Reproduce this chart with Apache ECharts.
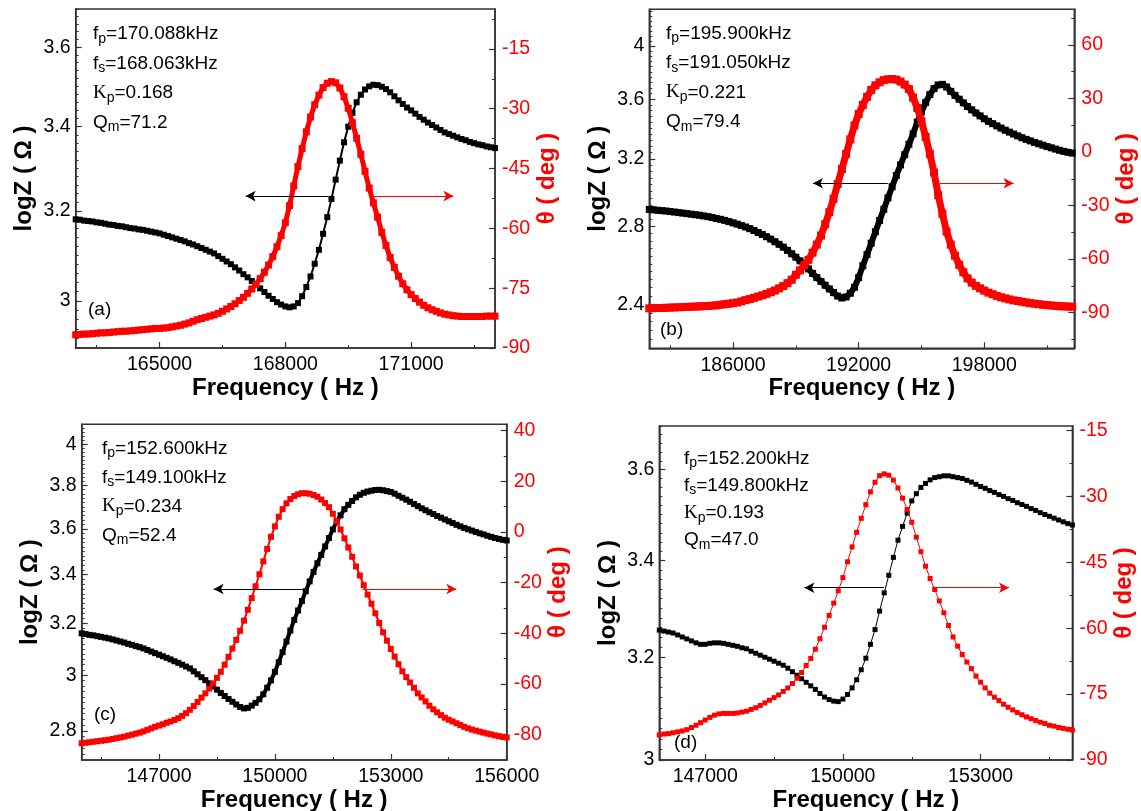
<!DOCTYPE html>
<html>
<head>
<meta charset="utf-8">
<title>logZ and phase vs frequency</title>
<script src="https://cdn.jsdelivr.net/npm/echarts@6.0.0/dist/echarts.min.js"></script>
<style>
  html, body { margin: 0; padding: 0; background: #fff; }
  #chart { width: 1141px; height: 811px; }
</style>
</head>
<body>
<div id="chart"></div>
<script>
// sweep start / step (Hz) of each panel
const sweepA = [163000, 100];
const sweepB = [182000, 200];
const sweepC = [145000, 100];
const sweepD = [146000, 100];

// (a) logZ and phase
const logZA = [
  3.181,3.180,3.178,3.177,3.176,3.174,3.173,3.171,3.169,3.168,
  3.166,3.165,3.163,3.161,3.160,3.158,3.157,3.155,3.153,3.151,
  3.149,3.146,3.143,3.140,3.137,3.134,3.131,3.127,3.124,3.120,
  3.116,3.112,3.108,3.104,3.098,3.092,3.086,3.080,3.073,3.066,
  3.058,3.051,3.043,3.035,3.027,3.019,3.011,3.004,2.997,2.992,
  2.988,2.986,2.988,2.995,3.010,3.030,3.053,3.081,3.112,3.148,
  3.186,3.228,3.273,3.318,3.362,3.400,3.434,3.460,3.479,3.492,
  3.500,3.504,3.503,3.499,3.493,3.485,3.475,3.465,3.456,3.447,
  3.440,3.432,3.424,3.417,3.410,3.404,3.398,3.392,3.386,3.382,
  3.378,3.374,3.370,3.367,3.363,3.360,3.357,3.355,3.352,3.350,
  3.348];
const phaseA = [
  -86.7,-86.6,-86.5,-86.5,-86.4,-86.3,-86.2,-86.2,-86.1,-86.0,
  -85.9,-85.8,-85.8,-85.7,-85.6,-85.5,-85.4,-85.3,-85.2,-85.1,
  -85.1,-85.0,-84.9,-84.7,-84.5,-84.3,-84.0,-83.7,-83.3,-82.9,
  -82.6,-82.3,-82.0,-81.7,-81.3,-80.8,-80.2,-79.6,-78.9,-78.1,
  -77.3,-76.3,-75.2,-74.0,-72.6,-71.0,-69.2,-67.1,-64.6,-61.8,
  -58.6,-54.3,-49.4,-44.5,-40.0,-35.8,-32.1,-29.0,-26.6,-24.7,
  -23.6,-23.2,-23.5,-24.8,-27.0,-29.9,-33.5,-37.4,-41.4,-45.7,
  -49.9,-53.6,-57.2,-61.0,-64.3,-67.3,-69.8,-72.0,-73.9,-75.4,
  -76.6,-77.6,-78.5,-79.3,-79.9,-80.4,-80.8,-81.2,-81.5,-81.7,
  -81.9,-82.0,-82.1,-82.1,-82.1,-82.1,-82.1,-82.1,-82.0,-82.0,
  -82.0];

// (b)
const logZB = [
  2.895,2.893,2.890,2.888,2.886,2.883,2.880,2.877,2.874,2.871,
  2.868,2.865,2.862,2.858,2.854,2.849,2.844,2.839,2.833,2.826,
  2.819,2.812,2.804,2.796,2.787,2.777,2.766,2.755,2.743,2.730,
  2.716,2.702,2.687,2.670,2.652,2.634,2.615,2.595,2.574,2.551,
  2.530,2.511,2.492,2.474,2.456,2.439,2.430,2.435,2.453,2.482,
  2.530,2.590,2.648,2.708,2.770,2.833,2.896,2.962,3.028,3.096,
  3.161,3.226,3.293,3.362,3.440,3.510,3.577,3.633,3.676,3.703,
  3.707,3.688,3.656,3.627,3.600,3.574,3.548,3.525,3.503,3.483,
  3.463,3.446,3.430,3.415,3.400,3.386,3.373,3.360,3.348,3.336,
  3.325,3.315,3.305,3.296,3.287,3.278,3.270,3.262,3.254,3.247,
  3.241,3.236];
const phaseB = [
  -87.6,-87.5,-87.4,-87.4,-87.3,-87.2,-87.1,-87.0,-86.9,-86.8,
  -86.7,-86.6,-86.5,-86.4,-86.3,-86.1,-85.9,-85.6,-85.3,-85.0,
  -84.7,-84.3,-83.7,-83.0,-82.4,-81.7,-81.0,-80.3,-79.5,-78.6,
  -77.6,-76.4,-75.1,-73.5,-71.6,-68.8,-66.3,-63.4,-60.4,-56.4,
  -51.9,-46.8,-40.5,-33.7,-26.2,-17.9,-9.5,-1.1,7.1,14.9,
  21.3,26.4,30.9,34.8,37.4,39.1,40.3,40.8,40.9,40.6,
  39.5,37.8,35.3,30.5,24.7,17.3,8.5,-1.0,-11.5,-24.2,
  -34.6,-44.6,-51.9,-58.1,-63.2,-67.4,-70.8,-73.2,-75.0,-76.4,
  -77.7,-78.8,-79.7,-80.6,-81.4,-82.0,-82.6,-83.1,-83.5,-83.9,
  -84.3,-84.7,-85.0,-85.3,-85.6,-85.8,-86.0,-86.2,-86.4,-86.5,
  -86.6,-86.7];

// (c)
const logZC = [
  3.161,3.158,3.155,3.153,3.150,3.147,3.144,3.141,3.137,3.133,
  3.129,3.125,3.120,3.116,3.111,3.107,3.102,3.096,3.090,3.084,
  3.078,3.072,3.066,3.060,3.053,3.047,3.040,3.033,3.026,3.015,
  3.004,2.993,2.982,2.970,2.959,2.947,2.935,2.924,2.913,2.903,
  2.893,2.884,2.879,2.881,2.889,2.899,2.912,2.930,2.954,2.981,
  3.013,3.050,3.088,3.129,3.172,3.214,3.252,3.291,3.331,3.372,
  3.412,3.449,3.485,3.522,3.559,3.597,3.632,3.661,3.689,3.709,
  3.727,3.744,3.756,3.765,3.771,3.775,3.778,3.779,3.777,3.773,
  3.769,3.761,3.751,3.742,3.733,3.723,3.713,3.703,3.693,3.684,
  3.675,3.667,3.658,3.650,3.642,3.634,3.626,3.618,3.611,3.604,
  3.598,3.592,3.586,3.580,3.575,3.569,3.564,3.559,3.555,3.551,
  3.548];
const phaseC = [
  -83.4,-83.2,-83.0,-82.8,-82.6,-82.4,-82.2,-82.0,-81.7,-81.4,
  -81.1,-80.8,-80.4,-80.0,-79.6,-79.2,-78.7,-78.1,-77.5,-76.9,
  -76.4,-75.9,-75.3,-74.8,-74.2,-73.5,-72.6,-71.5,-70.2,-68.7,
  -67.1,-65.4,-63.7,-61.8,-59.8,-57.6,-55.2,-52.4,-49.3,-46.0,
  -42.6,-39.0,-35.0,-30.7,-26.1,-21.4,-16.7,-11.6,-6.7,-1.9,
  2.2,6.0,9.0,11.3,13.0,14.2,14.9,15.3,15.3,15.1,
  14.6,13.9,12.8,11.4,9.8,7.2,4.2,1.0,-2.5,-6.1,
  -9.8,-13.6,-17.2,-21.0,-24.7,-28.3,-32.1,-35.9,-39.6,-42.9,
  -46.2,-49.2,-52.2,-55.0,-57.3,-59.4,-61.5,-63.7,-65.3,-66.9,
  -68.6,-70.0,-71.2,-72.3,-73.3,-74.1,-74.8,-75.5,-76.2,-76.9,
  -77.5,-78.0,-78.4,-78.8,-79.2,-79.6,-79.9,-80.3,-80.6,-80.9,
  -81.1];

// (d)
const logZD = [
  3.255,3.253,3.251,3.249,3.245,3.241,3.237,3.233,3.229,3.226,
  3.226,3.228,3.229,3.229,3.228,3.226,3.224,3.222,3.219,3.217,
  3.212,3.208,3.204,3.200,3.196,3.192,3.188,3.184,3.178,3.171,
  3.164,3.157,3.150,3.143,3.136,3.128,3.121,3.116,3.113,3.112,
  3.117,3.126,3.139,3.155,3.175,3.198,3.226,3.256,3.294,3.332,
  3.369,3.407,3.444,3.474,3.503,3.530,3.546,3.560,3.569,3.577,
  3.582,3.584,3.586,3.586,3.584,3.582,3.580,3.576,3.572,3.567,
  3.562,3.558,3.553,3.549,3.544,3.540,3.535,3.531,3.526,3.522,
  3.518,3.513,3.509,3.504,3.500,3.496,3.492,3.488,3.484,3.480,
  3.477];
const phaseD = [
  -84.3,-84.1,-84.0,-83.8,-83.6,-83.4,-83.1,-82.6,-82.1,-81.5,
  -80.9,-80.3,-79.8,-79.5,-79.4,-79.4,-79.4,-79.3,-79.1,-78.9,
  -78.5,-78.1,-77.6,-77.0,-76.4,-75.8,-75.2,-74.4,-73.6,-72.6,
  -71.4,-70.1,-68.5,-66.9,-64.8,-62.4,-59.8,-57.1,-54.3,-51.5,
  -48.5,-44.9,-41.5,-38.2,-35.0,-31.9,-29.0,-26.8,-25.3,-24.9,
  -25.2,-26.3,-28.1,-30.4,-33.0,-35.9,-39.3,-42.6,-45.9,-48.7,
  -51.2,-53.8,-56.5,-59.4,-62.0,-64.1,-66.0,-67.7,-69.2,-70.9,
  -72.3,-73.6,-74.8,-75.7,-76.5,-77.3,-78.0,-78.6,-79.2,-79.7,
  -80.2,-80.6,-81.0,-81.4,-81.7,-82.1,-82.3,-82.6,-82.8,-83.0,
  -83.2];

// axis ranges and tick labels
const freqRange  = [[163000, 173000], [182000, 202300], [145000, 156000], [146000, 155000]];
const logZRange  = [[2.9, 3.7], [2.2, 4.3], [2.7, 4.1], [3.0, 3.7]];
const phaseRange = [[-90, -5], [-110, 80], [-90, 42.5], [-90, -14]];
const freqTicks  = [[165000, 168000, 171000], [186000, 192000, 198000], [147000, 150000, 153000, 156000], [147000, 150000, 153000]];
const logZTicks  = [[3.0, 3.2, 3.4, 3.6], [2.4, 2.8, 3.2, 3.6, 4.0], [2.8, 3.0, 3.2, 3.4, 3.6, 3.8, 4.0], [3.0, 3.2, 3.4, 3.6]];
const phaseTicks = [[-90, -75, -60, -45, -30, -15], [-90, -60, -30, 0, 30, 60], [-80, -60, -40, -20, 0, 20, 40], [-90, -75, -60, -45, -30, -15]];
const freqMinor  = [1500, 3000, 1500, 1500];
const logZMinor  = [0.02, 0.04, 0.02, 0.02];
const phaseMinor = [7.5, 15, 10, 7.5];

// annotation texts
const panelTags = ['(a)', '(b)', '(c)', '(d)'];
const fpText = ['170.088', '195.900', '152.600', '152.200'];
const fsText = ['168.063', '191.050', '149.100', '149.800'];
const kpText = ['0.168', '0.221', '0.234', '0.193'];
const qmText = ['71.2', '79.4', '52.4', '47.0'];
// arrows: [y(phase), black tail, black head, red tail, red head]
const arrows = [
  [-51.9, 169029, 167053, 170040, 172009],
  [-17.5, 193391, 189818, 195865, 199404],
  [-22.5, 150779, 148414, 152267, 154697],
  [-50.8, 150895, 149161, 151985, 153619]
];

// layout (px) and marker look
const grids = [
  { left: 75.7, top: 9, width: 419.3, height: 339 },
  { left: 649.3, top: 9.3, width: 425, height: 339 },
  { left: 81.7, top: 424.3, width: 425, height: 335.7 },
  { left: 659.3, top: 426, width: 413.1, height: 334 }
];
const infoPos = [[93, 34, 29.5], [666, 33.3, 29.5], [102, 448.3, 29], [684, 458.3, 27.3]];
const tagPos = [[88, 310], [660, 330], [94, 715], [674, 743]];
const blackSize = [6, 7, 6, 5];
const redSize = [7, 8, 6, 5];
const blackWidth = [2, 6, 4, 1];
const redWidth = [5, 7, 2, 1];

const FONT = '"Liberation Sans", Arial, Helvetica, sans-serif';
const AXIS = '#333';
const RED = '#ff0000';
const TICK_FS = 19.5;
const NAME_FS = 24;
const INFO_FS = 19;

function sweep(s, n) {
  const out = [];
  for (let i = 0; i < n; i++) out.push(s[0] + i * s[1]);
  return out;
}

function minorValues(min, max, step, majors) {
  const out = [];
  const k0 = Math.ceil(min / step - 1e-9), k1 = Math.floor(max / step + 1e-9);
  for (let k = k0; k <= k1; k++) {
    const v = +(k * step).toFixed(6);
    if (majors.some(m => Math.abs(m - v) < step / 10)) continue;
    out.push(v);
  }
  return out;
}

const lg = Math.log10;
const trim = (v) => String(+v.toFixed(1));

const sets = [
  [sweepA, logZA, phaseA],
  [sweepB, logZB, phaseB],
  [sweepC, logZC, phaseC],
  [sweepD, logZD, phaseD]
];

const option = {
  animation: false,
  backgroundColor: '#fff',
  grid: [], xAxis: [], yAxis: [], series: [], graphic: []
};

sets.forEach(([sw, z, p], i) => {
  const g = grids[i];
  option.grid.push({
    left: g.left, top: g.top, width: g.width, height: g.height,
    show: true, borderColor: AXIS, borderWidth: 1.5, backgroundColor: 'transparent',
    outerBoundsMode: 'none', containLabel: false
  });

  const fr = freqRange[i], zr = logZRange[i], pr = phaseRange[i];
  const zMajor = logZTicks[i].map(lg);
  const zMinor = minorValues(zr[0], zr[1], logZMinor[i], logZTicks[i]).map(lg);

  // x: labelled axis + minor ticks
  option.xAxis.push({
    type: 'value', gridIndex: i, min: fr[0], max: fr[1], position: 'bottom',
    axisLine: { show: true, onZero: false, lineStyle: { color: AXIS, width: 1.5 } },
    axisTick: { show: true, inside: true, length: 6, customValues: freqTicks[i], lineStyle: { color: AXIS, width: 1.2 } },
    axisLabel: { customValues: freqTicks[i], margin: 7, color: '#000', fontSize: TICK_FS, fontFamily: FONT,
      formatter: (v) => String(Math.round(v)) },
    splitLine: { show: false },
    name: 'Frequency ( Hz )', nameLocation: 'middle', nameGap: 27,
    nameTextStyle: { color: '#000', fontSize: NAME_FS, fontWeight: 'bold', fontFamily: FONT }
  });
  option.xAxis.push({
    type: 'value', gridIndex: i, min: fr[0], max: fr[1], position: 'bottom',
    axisLine: { show: false, onZero: false },
    axisTick: { show: true, inside: true, length: 3, customValues: minorValues(fr[0], fr[1], freqMinor[i], freqTicks[i]),
      lineStyle: { color: AXIS, width: 1 } },
    axisLabel: { show: false }, splitLine: { show: false }
  });

  // left: logZ on a log scale
  option.yAxis.push({
    type: 'value', gridIndex: i, min: lg(zr[0]), max: lg(zr[1]), position: 'left',
    axisLine: { show: true, onZero: false, lineStyle: { color: AXIS, width: 1.5 } },
    axisTick: { show: true, inside: true, length: 6, customValues: zMajor, lineStyle: { color: AXIS, width: 1.2 } },
    axisLabel: { customValues: zMajor, margin: 5, color: '#000', fontSize: TICK_FS, fontFamily: FONT,
      formatter: (v) => trim(Math.pow(10, v)) },
    splitLine: { show: false },
    name: 'logZ ( Ω )', nameLocation: 'middle', nameGap: 39, nameRotate: 90,
    nameTextStyle: { color: '#000', fontSize: NAME_FS, fontWeight: 'bold', fontFamily: FONT }
  });
  option.yAxis.push({
    type: 'value', gridIndex: i, min: lg(zr[0]), max: lg(zr[1]), position: 'left',
    axisLine: { show: false, onZero: false },
    axisTick: { show: true, inside: true, length: 3, customValues: zMinor, lineStyle: { color: AXIS, width: 1 } },
    axisLabel: { show: false }, splitLine: { show: false }
  });

  // right: phase
  option.yAxis.push({
    type: 'value', gridIndex: i, min: pr[0], max: pr[1], position: 'right',
    axisLine: { show: true, onZero: false, lineStyle: { color: AXIS, width: 1.5 } },
    axisTick: { show: true, inside: true, length: 6, customValues: phaseTicks[i], lineStyle: { color: AXIS, width: 1.2 } },
    axisLabel: { customValues: phaseTicks[i], margin: 7, color: RED, fontSize: TICK_FS, fontFamily: FONT },
    splitLine: { show: false },
    name: 'θ ( deg )', nameLocation: 'middle', nameGap: 40, nameRotate: 90,
    nameTextStyle: { color: RED, fontSize: NAME_FS, fontWeight: 'bold', fontFamily: FONT }
  });
  option.yAxis.push({
    type: 'value', gridIndex: i, min: pr[0], max: pr[1], position: 'right',
    axisLine: { show: false, onZero: false },
    axisTick: { show: true, inside: true, length: 3, customValues: minorValues(pr[0], pr[1], phaseMinor[i], phaseTicks[i]),
      lineStyle: { color: AXIS, width: 1 } },
    axisLabel: { show: false }, splitLine: { show: false }
  });

  const freq = sweep(sw, z.length);
  const a = arrows[i];
  option.series.push({
    type: 'line', name: 'logZ', xAxisIndex: 2 * i, yAxisIndex: 4 * i,
    data: freq.map((f, k) => [f, lg(z[k])]),
    symbol: 'rect', symbolSize: blackSize[i], showSymbol: true,
    lineStyle: { color: '#000', width: blackWidth[i] }, itemStyle: { color: '#000' },
    emphasis: { disabled: true }, silent: true, z: 3
  });
  option.series.push({
    type: 'line', name: 'theta', xAxisIndex: 2 * i, yAxisIndex: 4 * i + 2,
    data: freq.map((f, k) => [f, p[k]]),
    symbol: 'rect', symbolSize: redSize[i], showSymbol: true,
    lineStyle: { color: RED, width: redWidth[i] }, itemStyle: { color: RED },
    emphasis: { disabled: true }, silent: true, z: 4,
    markLine: {
      silent: true, animation: false, symbol: ['none', 'arrow'], symbolSize: [8, 10],
      label: { show: false },
      data: [
        [{ coord: [a[1], a[0]], lineStyle: { color: '#000', width: 1, type: 'solid' }, itemStyle: { color: '#000' } },
         { coord: [a[2], a[0]] }],
        [{ coord: [a[3], a[0]], lineStyle: { color: RED, width: 1, type: 'solid' }, itemStyle: { color: RED } },
         { coord: [a[4], a[0]] }]
      ]
    }
  });

  // annotation block
  const [ix, iy, dy] = infoPos[i];
  const rich = {
    m: { fontSize: INFO_FS, fontFamily: FONT, fill: '#000', lineHeight: 22 },
    k: { fontSize: INFO_FS, fontFamily: '"Liberation Serif", "DejaVu Serif", serif', fill: '#000', lineHeight: 22 },
    s: { fontSize: 14, fontFamily: FONT, fill: '#000', lineHeight: 14, padding: [10, 0, 0, 0] }
  };
  const lines = [
    '{m|f}{s|p}{m|=' + fpText[i] + 'kHz}',
    '{m|f}{s|s}{m|=' + fsText[i] + 'kHz}',
    '{k|Κ}{s|p}{m|=' + kpText[i] + '}',
    '{m|Q}{s|m}{m|=' + qmText[i] + '}'
  ];
  lines.forEach((t, j) => {
    option.graphic.push({
      type: 'text', silent: true, z: 10,
      style: { text: t, x: ix, y: iy + j * dy, verticalAlign: 'middle', align: 'left', rich }
    });
  });
  option.graphic.push({
    type: 'text', silent: true, z: 10,
    style: { text: panelTags[i], x: tagPos[i][0], y: tagPos[i][1], verticalAlign: 'middle',
      fontSize: INFO_FS, fontFamily: FONT, fill: '#000' }
  });
});

const chart = echarts.init(document.getElementById('chart'), null, { renderer: 'canvas' });
chart.setOption(option);
</script>
</body>
</html>
